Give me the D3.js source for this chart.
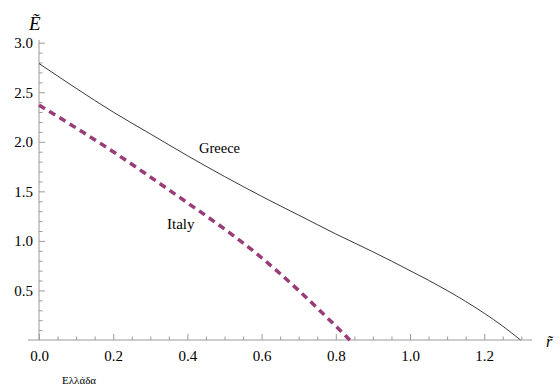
<!DOCTYPE html>
<html>
<head>
<meta charset="utf-8">
<script src="https://cdn.jsdelivr.net/npm/d3@7"></script>
</head>
<body style="margin:0">
<svg id="chart" width="560" height="387"></svg>
<script>
// curve samples (r~ vs E~)
var greeceR = [0, 0.1, 0.2, 0.3, 0.4, 0.5, 0.6, 0.7, 0.8, 0.9, 1.0, 1.1, 1.2, 1.25, 1.298];
var greeceE = [2.79, 2.54, 2.30, 2.08, 1.86, 1.65, 1.45, 1.26, 1.07, 0.89, 0.70, 0.50, 0.27, 0.14, 0];
var italyR = [0, 0.1, 0.2, 0.3, 0.4, 0.5, 0.6, 0.7, 0.8, 0.838];
var italyE = [2.37, 2.14, 1.90, 1.645, 1.385, 1.12, 0.83, 0.50, 0.14, 0];
var xTicks = [0, 0.2, 0.4, 0.6, 0.8, 1.0, 1.2];
var yTicks = [0.5, 1.0, 1.5, 2.0, 2.5, 3.0];

var fam = "Times New Roman, Liberation Serif, serif";
var svg = d3.select("#chart");

var x = d3.scaleLinear().domain([0, 1]).range([39, 410]);
var y = d3.scaleLinear().domain([0, 3]).range([340, 42.7]);

var axisColor = "#9a9a9a";

// minor ticks
var xMinor = d3.range(0.05, 1.31, 0.05).filter(function(v) { return Math.abs(v * 5 - Math.round(v * 5)) > 1e-6; });
var yMinor = d3.range(0.1, 3.0, 0.1).filter(function(v) { return Math.abs(v * 2 - Math.round(v * 2)) > 1e-6; });

var gx = svg.append("g").attr("transform", "translate(0,340)");
gx.call(d3.axisBottom(x).tickValues(xMinor).tickFormat("").tickSizeInner(-3.5).tickSizeOuter(0));
gx.select(".domain").remove();
var gx2 = svg.append("g").attr("transform", "translate(0,340)");
gx2.call(d3.axisBottom(x).tickValues(xTicks).tickFormat(d3.format(".1f")).tickSizeInner(-6).tickSizeOuter(0).tickPadding(10));
gx2.select(".domain").remove();

var gy = svg.append("g").attr("transform", "translate(39,0)");
gy.call(d3.axisLeft(y).tickValues(yMinor).tickFormat("").tickSizeInner(-3.5).tickSizeOuter(0));
gy.select(".domain").remove();
var gy2 = svg.append("g").attr("transform", "translate(39,0)");
gy2.call(d3.axisLeft(y).tickValues(yTicks).tickFormat(d3.format(".1f")).tickSizeInner(-6).tickSizeOuter(0).tickPadding(6));
gy2.select(".domain").remove();

svg.selectAll("g").attr("font-family", fam);
svg.selectAll(".tick line").attr("stroke", axisColor);
svg.selectAll(".tick text").attr("font-size", 15).attr("font-family", fam).attr("fill", "#000");

// axis lines
svg.append("line").attr("x1", 28).attr("x2", 532).attr("y1", 340).attr("y2", 340).attr("stroke", axisColor);
svg.append("line").attr("x1", 39).attr("x2", 39).attr("y1", 340).attr("y2", 40).attr("stroke", axisColor);

var line = d3.line()
    .x(function(d) { return x(d[0]); })
    .y(function(d) { return y(d[1]); })
    .curve(d3.curveMonotoneX);

svg.append("path")
    .datum(d3.zip(greeceR, greeceE))
    .attr("d", line)
    .attr("fill", "none")
    .attr("stroke", "#3a3a3a")
    .attr("stroke-width", 1);

svg.append("path")
    .datum(d3.zip(italyR, italyE))
    .attr("d", line)
    .attr("fill", "none")
    .attr("stroke", "#993c77")
    .attr("stroke-width", 3.5)
    .attr("stroke-dasharray", "7,5");

// labels
function label(px, py, size, txt, italic) {
    return svg.append("text")
        .attr("x", px).attr("y", py)
        .attr("font-family", fam)
        .attr("font-size", size)
        .attr("font-style", italic ? "italic" : null)
        .text(txt);
}
label(199, 153, 14.5, "Greece");
label(167, 229, 15, "Italy");
label(29, 30, 19, "\u1EBC", true);
label(546, 347, 16, "r\u0303", true);
label(62, 384, 11, "Ελλάδα");
</script>
</body>
</html>
